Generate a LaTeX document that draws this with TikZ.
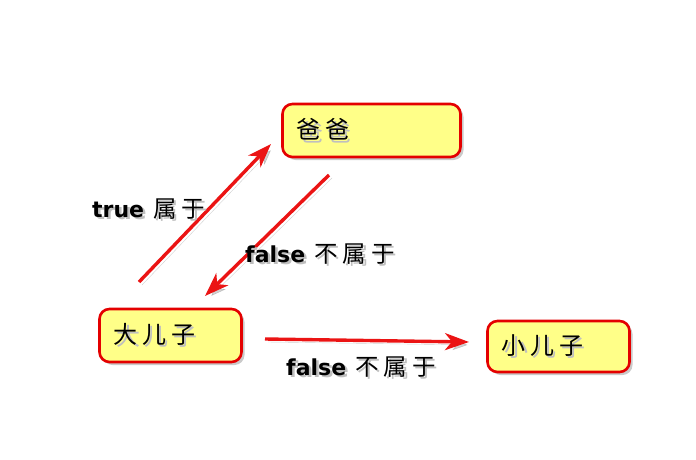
\documentclass[tikz,border=0pt]{standalone}
\usepackage{fontspec}
\setmainfont{DejaVu Sans}
\newfontfamily\cjk{Noto Sans CJK SC}
\usetikzlibrary{arrows.meta,shadows}
\definecolor{boxfill}{RGB}{255,255,136}
\definecolor{boxline}{RGB}{228,0,0}
\definecolor{arrowred}{RGB}{235,20,20}
\newcommand\shtxt[1]{\makebox[0pt][l]{\hspace{2.5pt}\raisebox{-2.5pt}{\color{black!25}#1}}#1}
\newcommand\cjklbl{\cjk\fontsize{23.5}{26}\selectfont}
\tikzset{
  namebox/.style={draw=boxline, line width=2.6pt, fill=boxfill, rounded corners=10pt,
    inner xsep=14pt, inner ysep=0pt, align=left, font=\cjk\fontsize{24}{26}\selectfont,
    drop shadow={shadow xshift=3pt, shadow yshift=-3pt, opacity=0.35, fill=black!60}},
  redarrow/.style={draw=arrowred, line width=3.4pt,
    -{Stealth[length=24pt,width=17pt,inset=7pt]},
    preaction={draw=black, opacity=0.18, transform canvas={shift={(3pt,-3pt)}}}},
  lbl/.style={anchor=base west, inner sep=0pt, font=\fontsize{22}{26}\selectfont}
}
\begin{document}
\begin{tikzpicture}[x=1pt,y=-1pt]
\useasboundingbox (0,0) rectangle (696,460);
\node[namebox, text width=150pt, minimum height=53pt] (baba) at (371.5,130.5) {\shtxt{爸\hspace{5pt}爸}};
\node[namebox, text width=114pt, minimum height=53pt] (da) at (170.5,335.5) {\shtxt{大\hspace{5pt}儿\hspace{5pt}子}};
\node[namebox, text width=114pt, minimum height=51pt] (xiao) at (558.5,346.5) {\shtxt{小\hspace{5pt}儿\hspace{5pt}子}};
\coordinate (a1s) at (139,282);
\coordinate (a1e) at (271,144);
\coordinate (a2s) at (329,175);
\coordinate (a2e) at (205,296);
\coordinate (a3s) at (265,339);
\coordinate (a3e) at (469,342);
\draw[redarrow] (a1s) -- (a1e);
\draw[redarrow] (a2s) -- (a2e);
\draw[redarrow] (a3s) -- (a3e);
\node[lbl] (l1) at (92,217) {\shtxt{\textbf{true}}\hspace{9pt}\shtxt{\cjklbl 属\hspace{5pt}于}};
\node[lbl] (l2) at (245,262) {\shtxt{\textbf{false}}\hspace{9pt}\shtxt{\cjklbl 不\hspace{5pt}属\hspace{5pt}于}};
\node[lbl] (l3) at (286,375) {\shtxt{\textbf{false}}\hspace{9pt}\shtxt{\cjklbl 不\hspace{5pt}属\hspace{5pt}于}};
\end{tikzpicture}
\end{document}
